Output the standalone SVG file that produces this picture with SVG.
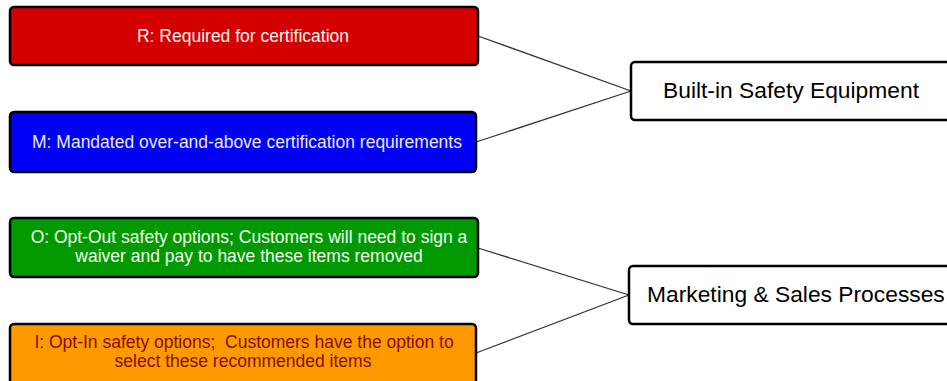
<svg xmlns="http://www.w3.org/2000/svg" width="947" height="381" viewBox="0 0 947 381">
<style>
.box{stroke:#000;stroke-width:2.5}
.lt{font-family:"Liberation Sans",Arial,sans-serif;font-size:17.5px;text-anchor:middle;white-space:pre}
.rt{font-family:"Liberation Sans",Arial,sans-serif;font-size:22.8px;fill:#000}
.conn{stroke:#333;stroke-width:1.3;fill:none}
</style>
<rect width="947" height="381" fill="#fff"/>
<g id="connectors">
<line class="conn" x1="478" y1="36" x2="631" y2="91"/>
<line class="conn" x1="476" y1="142" x2="631" y2="91"/>
<line class="conn" x1="478" y1="248" x2="629" y2="295"/>
<line class="conn" x1="476" y1="353" x2="629" y2="295"/>
</g>
<g id="node-R">
<rect class="box" x="10" y="7" width="468" height="58" rx="4" fill="#d40000"/>
<text class="lt" x="243" y="42" fill="#fff4ee">R: Required for certification</text>
</g>
<g id="node-M">
<rect class="box" x="10" y="112" width="466" height="60" rx="4" fill="#0000f5"/>
<text class="lt" x="247" y="148" fill="#e8e8ff">M: Mandated over-and-above certification requirements</text>
</g>
<g id="node-O">
<rect class="box" x="10" y="218" width="468" height="59" rx="4" fill="#009900"/>
<text class="lt" x="249" y="243" fill="#f2fff2">O: Opt-Out safety options; Customers will need to sign a</text>
<text class="lt" x="249" y="262" fill="#f2fff2">waiver and pay to have these items removed</text>
</g>
<g id="node-I">
<rect class="box" x="10" y="324" width="466" height="70" rx="4" fill="#ff9900"/>
<text class="lt" x="244" y="348" fill="#801000">I: Opt-In safety options;  Customers have the option to</text>
<text class="lt" x="243" y="367" fill="#801000">select these recommended items</text>
</g>
<g id="node-built-in">
<rect class="box" x="631" y="62" width="330" height="58" rx="4" fill="#fff"/>
<text class="rt" x="663" y="98">Built-in Safety Equipment</text>
</g>
<g id="node-marketing">
<rect class="box" x="629" y="266" width="330" height="58" rx="4" fill="#fff"/>
<text class="rt" x="647" y="302">Marketing &amp; Sales Processes</text>
</g>
</svg>
